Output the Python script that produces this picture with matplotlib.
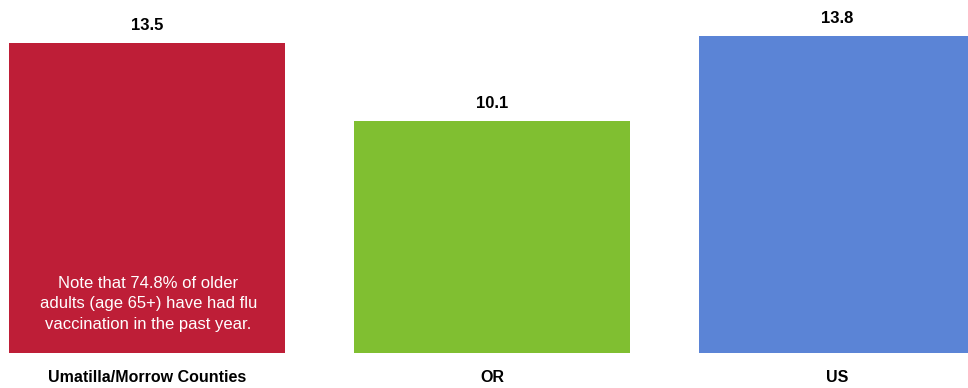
import matplotlib.pyplot as plt

categories = ['Umatilla/Morrow Counties', 'OR', 'US']
values = [13.5, 10.1, 13.8]
colors = ['#BE1E37', '#80BF31', '#5B84D6']
note = 'Note that 74.8% of older\nadults (age 65+) have had flu\nvaccination in the past year.'

bold_font = ['Liberation Sans Narrow', 'Liberation Sans', 'DejaVu Sans']

fig = plt.figure(figsize=(9.68, 3.88), dpi=100)
ax = fig.add_axes([0, 35 / 388, 1, 353 / 388])

x = range(len(categories))
ax.bar(x, values, width=0.8, color=colors)

ax.set_xlim(-147 / 345, (968 - 147) / 345)
ax.set_ylim(0, 353 / 22.97)
ax.axis('off')

for i, (cat, val) in enumerate(zip(categories, values)):
    ax.annotate(f'{val:.1f}', xy=(i, val), xytext=(0, 12.5), textcoords='offset points',
                ha='center', va='center', fontsize=12, fontweight='bold',
                family=bold_font, annotation_clip=False)
    ax.annotate(cat, xy=(i, 0), xytext=(0, -17.5), textcoords='offset points',
                ha='center', va='center', fontsize=11.5, fontweight='bold',
                family=bold_font, annotation_clip=False)

# note inside the first bar
ax.annotate(note, xy=(0, 0), xytext=(1, 35.5), textcoords='offset points',
            ha='center', va='center', fontsize=12, color='white',
            family=['Liberation Sans', 'DejaVu Sans'], linespacing=1.45)

fig.savefig('out.png', dpi=100)
